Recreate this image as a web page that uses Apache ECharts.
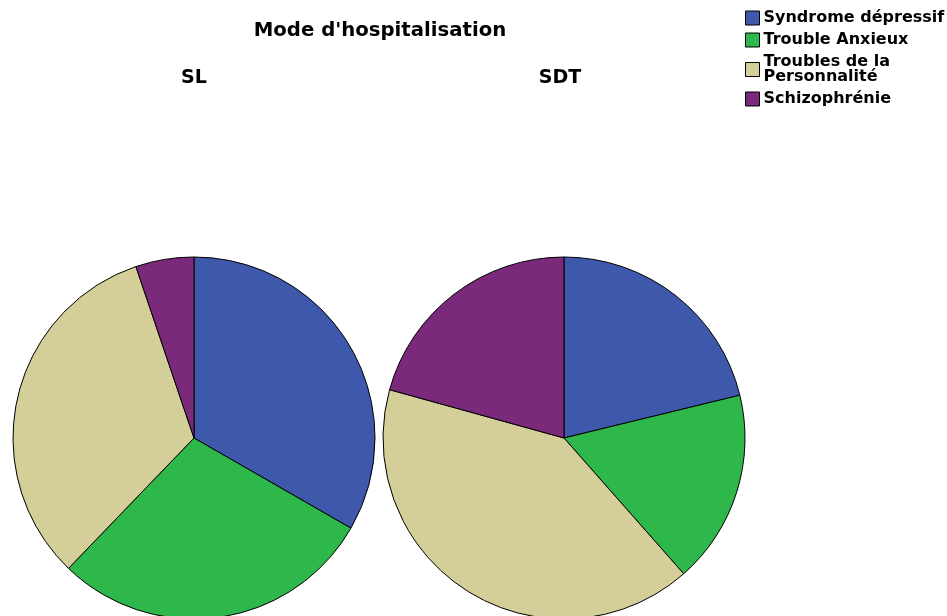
<!DOCTYPE html>
<html>
<head>
<meta charset="utf-8">
<script src="https://cdn.jsdelivr.net/npm/echarts@6/dist/echarts.min.js"></script>
<style>
  html, body { margin: 0; padding: 0; background: #fff; }
  #main { width: 947px; height: 616px; }
</style>
</head>
<body>
<div id="main"></div>
<script>
// catégories et valeurs (%)
var categories = ['Syndrome dépressif', 'Trouble Anxieux', 'Troubles de la\nPersonnalité', 'Schizophrénie'];
var slValues = [33.3, 28.9, 32.6, 5.2];
var sdtValues = [21.2, 17.3, 40.8, 20.7];
var colors = ['#3e59ab', '#2eb74a', '#d4ce98', '#7a297b'];

var myChart = echarts.init(document.getElementById('main'));

function pieData(vals) {
	var d = [];
	for (var i = 0; i < vals.length; i++) {
		d.push({ name: categories[i], value: vals[i] });
	}
	return d;
}

function pieSerie(name, cx, vals) {
	return {
		name: name,
		type: 'pie',
		center: [cx, 438],
		radius: 181,
		startAngle: 90,
		clockwise: true,
		label: { show: false },
		labelLine: { show: false },
		emphasis: { disabled: true },
		itemStyle: { borderColor: '#000', borderWidth: 1 },
		data: pieData(vals)
	};
}

var titleFont = { fontFamily: 'DejaVu Sans', fontWeight: 'bold', fontSize: 19, color: '#000' };

var option = {
	animation: false,
	color: colors,
	title: [
		{ text: "Mode d'hospitalisation", left: 375, top: 16, textAlign: 'center',
		  textStyle: { fontFamily: 'DejaVu Sans', fontWeight: 'bold', fontSize: 19.7, color: '#000' } },
		{ text: 'SL', left: 189, top: 64, textAlign: 'center', textStyle: titleFont },
		{ text: 'SDT', left: 555, top: 64, textAlign: 'center', textStyle: titleFont }
	],
	legend: {
		orient: 'vertical',
		left: 740, top: 5,
		itemWidth: 14, itemHeight: 14, itemGap: 6,
		icon: 'rect',
		itemStyle: { borderColor: '#000', borderWidth: 1 },
		textStyle: { fontFamily: 'DejaVu Sans', fontWeight: 'bold', fontSize: 16, lineHeight: 15, color: '#000', padding: [0, 0, 0, -1] },
		data: categories
	},
	series: [
		pieSerie('SL', 194, slValues),
		pieSerie('SDT', 564, sdtValues)
	]
};
myChart.setOption(option);
</script>
</body>
</html>
